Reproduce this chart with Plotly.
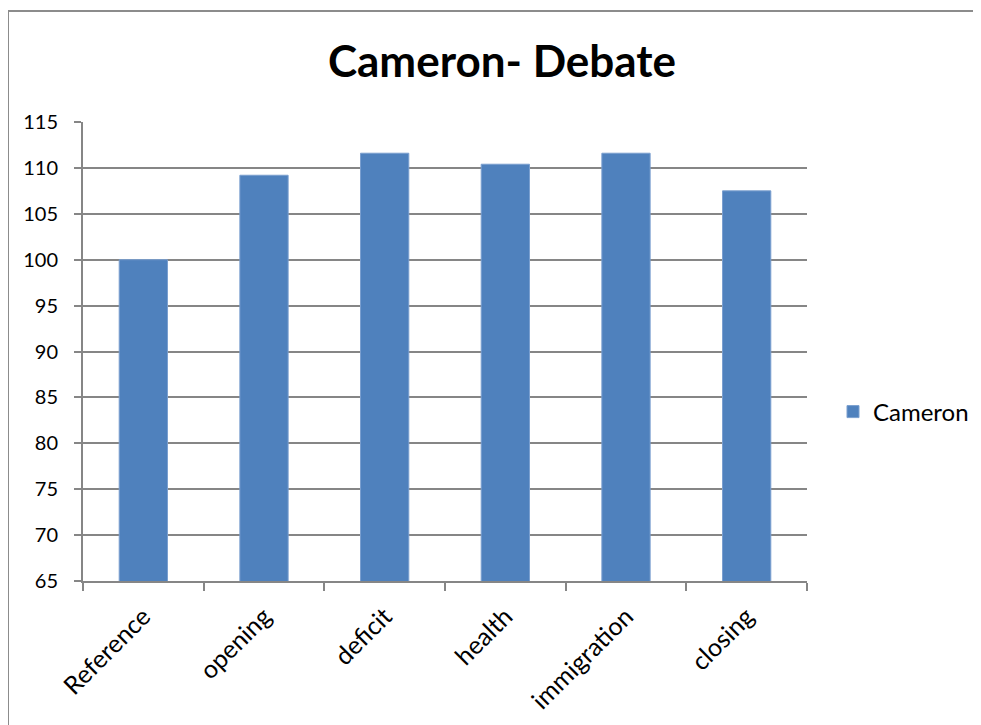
import plotly.graph_objects as go

categories = ["Reference", "opening", "deficit", "health", "immigration", "closing"]
values = [100, 109.2, 111.6, 110.4, 111.6, 107.5]
series_name = "Cameron"
title_text = "Cameron- Debate"
y_ticks = [65, 70, 75, 80, 85, 90, 95, 100, 105, 110, 115]

OFF = 8  # page body margin
W, H = 981 - OFF, 725 - OFF
L, R, T, B = 83 - OFF, 981 - 807, 122 - OFF, 725 - 581
pw = W - L - R
ph = H - T - B

def px_x(p):
    return (p - OFF - L) / pw

def px_y(p):
    return (H - B - (p - OFF)) / ph

FONT = "Lato"

fig = go.Figure()
fig.add_trace(go.Bar(
    x=categories, y=values, name=series_name,
    marker=dict(color="#4F81BD", line=dict(color="#7A9FCF", width=1)),
    width=0.4,
))

fig.update_layout(
    width=W, height=H,
    margin=dict(l=L, r=R, t=T, b=B, autoexpand=False),
    paper_bgcolor="white", plot_bgcolor="white",
    showlegend=True,
    legend=dict(x=px_x(833), y=px_y(412), xanchor="left", yanchor="middle",
                font=dict(family=FONT, size=24, color="black"),
                itemwidth=30, bgcolor="rgba(0,0,0,0)"),
    title=dict(text="<b>" + title_text + "</b>", x=(502 - OFF) / W,
               xanchor="center", y=1 - (62 - OFF) / H, yanchor="middle",
               font=dict(family=FONT, size=44, color="black")),
    shapes=[dict(type="rect", xref="paper", yref="paper",
                 x0=px_x(8), x1=px_x(1100), y0=px_y(900), y1=px_y(11),
                 line=dict(color="#8C8C8C", width=2), fillcolor="rgba(0,0,0,0)",
                 layer="below")],
)

fig.update_xaxes(
    type="category", tickson="boundaries", ticks="outside", ticklen=8,
    tickcolor="#868686", tickwidth=2, showline=True, linecolor="#868686", linewidth=2,
    tickangle=-45, tickfont=dict(family=FONT, size=25, color="black"),
    ticklabelstandoff=9, showgrid=False,
)
fig.update_yaxes(
    range=[65, 115], tickvals=y_ticks, ticks="outside", ticklen=7,
    tickcolor="#868686", tickwidth=2, showline=True, linecolor="#868686", linewidth=2,
    showgrid=True, gridcolor="#868686", gridwidth=2, ticklabelstandoff=12,
    tickfont=dict(family=FONT, size=20, color="black"), zeroline=False,
)

fig.write_html("out.html")
